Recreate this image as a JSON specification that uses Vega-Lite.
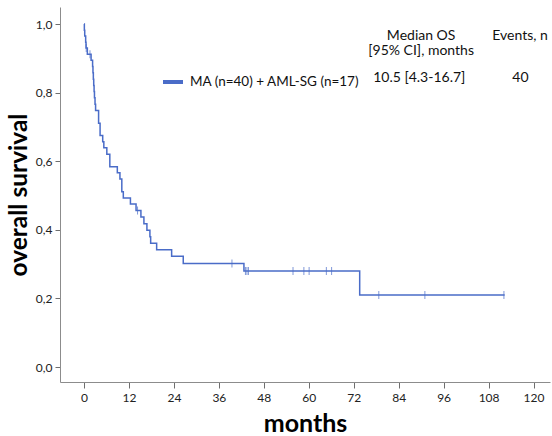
{
  "$schema": "https://vega.github.io/schema/vega-lite/v6.json",
  "width": 490,
  "height": 375,
  "autosize": {"type": "none"},
  "padding": {"left": 60, "top": 7, "right": 2, "bottom": 54},
  "background": "white",
  "config": {
    "view": {"stroke": null},
    "font": "Lato",
    "axis": {
      "grid": false,
      "domainColor": "#8c8c8c",
      "tickColor": "#6e6e6e",
      "labelColor": "#222222",
      "labelFont": "Lato",
      "labelFontSize": 12,
      "titleFont": "Lato",
      "titleFontWeight": "bold",
      "titleColor": "#000000"
    }
  },
  "datasets": {
    "km": [
      {"t": 0, "s": 1.0},
      {"t": 0.1, "s": 0.982},
      {"t": 0.2, "s": 0.965},
      {"t": 0.45, "s": 0.947},
      {"t": 0.55, "s": 0.930},
      {"t": 0.9, "s": 0.912},
      {"t": 1.9, "s": 0.894},
      {"t": 2.3, "s": 0.876},
      {"t": 2.4, "s": 0.858},
      {"t": 2.5, "s": 0.839},
      {"t": 2.6, "s": 0.821},
      {"t": 2.7, "s": 0.803},
      {"t": 2.8, "s": 0.785},
      {"t": 2.95, "s": 0.766},
      {"t": 3.1, "s": 0.748},
      {"t": 3.9, "s": 0.711},
      {"t": 4.3, "s": 0.675},
      {"t": 5.0, "s": 0.657},
      {"t": 5.3, "s": 0.639},
      {"t": 6.1, "s": 0.620},
      {"t": 6.9, "s": 0.584},
      {"t": 8.9, "s": 0.566},
      {"t": 9.6, "s": 0.548},
      {"t": 10.1, "s": 0.511},
      {"t": 10.5, "s": 0.493},
      {"t": 12.4, "s": 0.475},
      {"t": 13.9, "s": 0.456},
      {"t": 15.2, "s": 0.437},
      {"t": 16.0, "s": 0.418},
      {"t": 16.8, "s": 0.399},
      {"t": 17.6, "s": 0.380},
      {"t": 17.8, "s": 0.361},
      {"t": 19.4, "s": 0.342},
      {"t": 23.4, "s": 0.323},
      {"t": 26.5, "s": 0.302},
      {"t": 42.7, "s": 0.280},
      {"t": 73.6, "s": 0.210},
      {"t": 112.3, "s": 0.210}
    ],
    "censor": [
      {"t": 0.6, "s": 0.930},
      {"t": 1.6, "s": 0.912},
      {"t": 14.3, "s": 0.456},
      {"t": 39.5, "s": 0.302},
      {"t": 43.1, "s": 0.280},
      {"t": 43.5, "s": 0.280},
      {"t": 43.9, "s": 0.280},
      {"t": 55.8, "s": 0.280},
      {"t": 58.7, "s": 0.280},
      {"t": 60.1, "s": 0.280},
      {"t": 64.7, "s": 0.280},
      {"t": 66.1, "s": 0.280},
      {"t": 78.7, "s": 0.210},
      {"t": 91.0, "s": 0.210},
      {"t": 112.1, "s": 0.210}
    ]
  },
  "layer": [
    {
      "data": {"name": "km"},
      "mark": {"type": "line", "interpolate": "step-after", "strokeWidth": 1.5},
      "encoding": {
        "x": {
          "field": "t", "type": "quantitative",
          "scale": {"domain": [-6.4, 124.4], "nice": false, "zero": false},
          "axis": {
            "values": [0, 12, 24, 36, 48, 60, 72, 84, 96, 108, 120],
            "title": "months",
            "titleFontSize": 25,
            "tickSize": 6,
            "labelPadding": 4,
            "titlePadding": 8
          }
        },
        "y": {
          "field": "s", "type": "quantitative",
          "scale": {"domain": [-0.0437, 1.0496], "nice": false, "zero": false},
          "axis": {
            "values": [0, 0.2, 0.4, 0.6, 0.8, 1.0],
            "labelExpr": "replace(format(datum.value, '.1f'), '.', ',')",
            "title": "overall survival",
            "titleFontSize": 24.5,
            "tickSize": 5,
            "labelPadding": 3,
            "titlePadding": 4
          }
        },
        "color": {
          "datum": "MA (n=40) + AML-SG (n=17)",
          "type": "nominal",
          "scale": {"range": ["#4a6cc8"]},
          "legend": {
            "title": null,
            "orient": "none",
            "legendX": 101,
            "legendY": 63,
            "padding": 0,
            "symbolType": "stroke",
            "symbolStrokeWidth": 4,
            "symbolSize": 400,
            "labelFont": "Lato",
            "labelFontSize": 13.5,
            "labelColor": "#111111",
            "labelOffset": 5,
            "labelLimit": 0,
            "encode": {"symbols": {"update": {"stroke": {"value": "#1f6ec4"}}}}
          }
        }
      }
    },
    {
      "data": {"name": "censor"},
      "mark": {"type": "tick", "orient": "vertical", "size": 8, "thickness": 1, "color": "#4a6cc8"},
      "encoding": {
        "x": {"field": "t", "type": "quantitative"},
        "y": {"field": "s", "type": "quantitative"}
      }
    },
    {
      "data": {"values": [{}]},
      "mark": {"type": "text", "font": "Lato", "fontSize": 14, "color": "#111111", "align": "center", "baseline": "middle"},
      "encoding": {"x": {"datum": 90.0}, "y": {"datum": 0.966}, "text": {"value": "Median OS"}}
    },
    {
      "data": {"values": [{}]},
      "mark": {"type": "text", "font": "Lato", "fontSize": 14, "color": "#111111", "align": "center", "baseline": "middle"},
      "encoding": {"x": {"datum": 90.0}, "y": {"datum": 0.92}, "text": {"value": "[95% CI], months"}}
    },
    {
      "data": {"values": [{}]},
      "mark": {"type": "text", "font": "Lato", "fontSize": 14, "color": "#111111", "align": "center", "baseline": "middle"},
      "encoding": {"x": {"datum": 116.4}, "y": {"datum": 0.966}, "text": {"value": "Events, n"}}
    },
    {
      "data": {"values": [{}]},
      "mark": {"type": "text", "font": "Lato", "fontSize": 14, "color": "#111111", "align": "center", "baseline": "middle"},
      "encoding": {"x": {"datum": 89.5}, "y": {"datum": 0.842}, "text": {"value": "10.5 [4.3-16.7]"}}
    },
    {
      "data": {"values": [{}]},
      "mark": {"type": "text", "font": "Lato", "fontSize": 14, "color": "#111111", "align": "center", "baseline": "middle"},
      "encoding": {"x": {"datum": 116.5}, "y": {"datum": 0.842}, "text": {"value": "40"}}
    }
  ]
}
